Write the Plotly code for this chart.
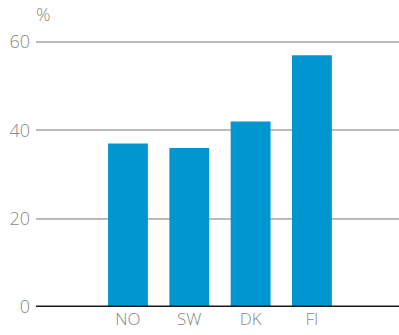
import plotly.graph_objects as go

categories = ["NO", "SW", "DK", "FI"]
values = [37, 36, 42, 57]
y_ticks = [0, 20, 40, 60]

fig = go.Figure()
fig.add_trace(go.Bar(x=categories, y=values, marker=dict(color="#0096D0", line=dict(width=0)),
                     width=0.65))

fig.update_layout(
    width=399, height=335,
    margin=dict(l=36, r=0, t=40, b=28),
    paper_bgcolor="white", plot_bgcolor="white",
    showlegend=False,
    font=dict(family="Open Sans", color="#888888", size=17, weight=300),
    xaxis=dict(type="category", range=[-1.5, 4.42], showgrid=False, showline=False,
               zeroline=False, ticks="",
               tickfont=dict(family="Open Sans", size=17, color="#888888", weight=300)),
    yaxis=dict(range=[0, 60.45], tickvals=y_ticks, showgrid=True, gridcolor="#BBBBBB",
               gridwidth=1.5, zeroline=False, showline=False, ticks="",
               ticklabelstandoff=5,
               tickfont=dict(family="Open Sans", size=18, color="#888888", weight=300)),
    annotations=[dict(text="%", xref="paper", yref="paper", x=0, y=1, xanchor="left",
                      yanchor="bottom", yshift=12, xshift=-2, showarrow=False,
                      font=dict(family="Open Sans", size=18, color="#888888", weight=300))],
    shapes=[dict(type="line", xref="paper", yref="y", x0=0, x1=1, y0=0, y1=0,
                 line=dict(color="#1a1a1a", width=3))],
)

fig.write_html("out.html")
